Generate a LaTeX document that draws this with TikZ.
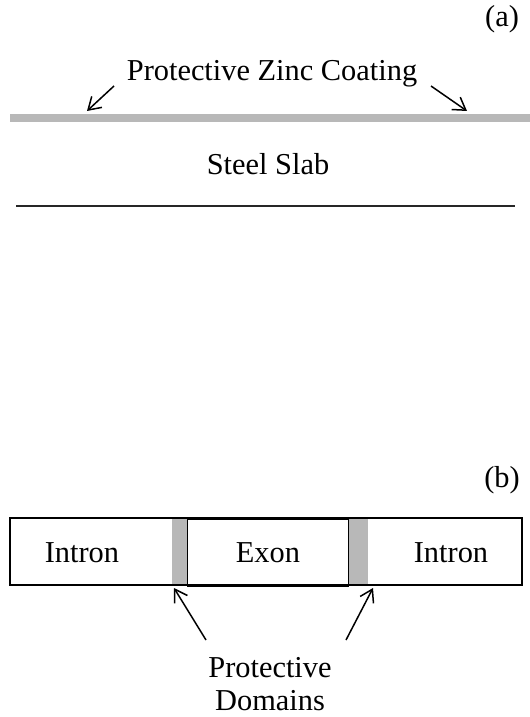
\documentclass[tikz,border=0pt]{standalone}
\usepackage{fontspec}
\setmainfont{Liberation Serif}
\usetikzlibrary{arrows.meta}
\begin{document}
\begin{tikzpicture}[x=1bp,y=-1bp,
  lbl/.style={font=\fontsize{30.5}{34}\selectfont, inner sep=0pt, anchor=center},
  zinc/.style={fill=black!28, draw=none},
  ptr/.style={line width=1.5bp, -{Straight Barb[length=12bp,width=15bp,line width=1.5bp]}},
  seg/.style={draw=black, line width=1.8bp}]
\useasboundingbox (0,0) rectangle (530,717);

% ---- part (a): coated steel slab
\node[lbl] (a) at (502,19) {(a)};
\node[lbl] (zinclbl) at (272,74) {Protective Zinc Coating};
\node[zinc, minimum width=520bp, minimum height=8bp, inner sep=0pt] (coat) at (270,118) {};
\node[lbl] (steel) at (268,164) {Steel Slab};
\coordinate (slabL) at (16,206);
\coordinate (slabR) at (515,206);
\draw[line width=1.9bp, black!85] (slabL) -- (slabR);

\coordinate (zaL) at (114,86);
\coordinate (ztL) at (87,111);
\coordinate (zaR) at (431,86);
\coordinate (ztR) at (467,111);
\draw[ptr] (zaL) -- (ztL);
\draw[ptr] (zaR) -- (ztR);

% ---- part (b): gene segment
\node[lbl] (b) at (502,480) {(b)};
\node[zinc, minimum width=16bp, minimum height=67bp, inner sep=0pt] (domL) at (179.5,552) {};
\node[zinc, minimum width=19bp, minimum height=67bp, inner sep=0pt] (domR) at (358,552) {};
\draw[seg] (10,518) rectangle (522,585);
\node[seg, minimum width=161bp, minimum height=67bp, inner sep=0pt] (exonbox) at (268,552.5) {};
\node[lbl] (intronL) at (82,553) {Intron};
\node[lbl] (exon) at (268,553) {Exon};
\node[lbl] (intronR) at (451,553) {Intron};

\node[lbl] (prot) at (270,668) {Protective};
\node[lbl] (dom) at (270,701) {Domains};
\coordinate (dsL) at (206,640);
\coordinate (dtL) at (174,588);
\coordinate (dsR) at (346,640);
\coordinate (dtR) at (373,588);
\draw[ptr] (dsL) -- (dtL);
\draw[ptr] (dsR) -- (dtR);
\end{tikzpicture}
\end{document}
